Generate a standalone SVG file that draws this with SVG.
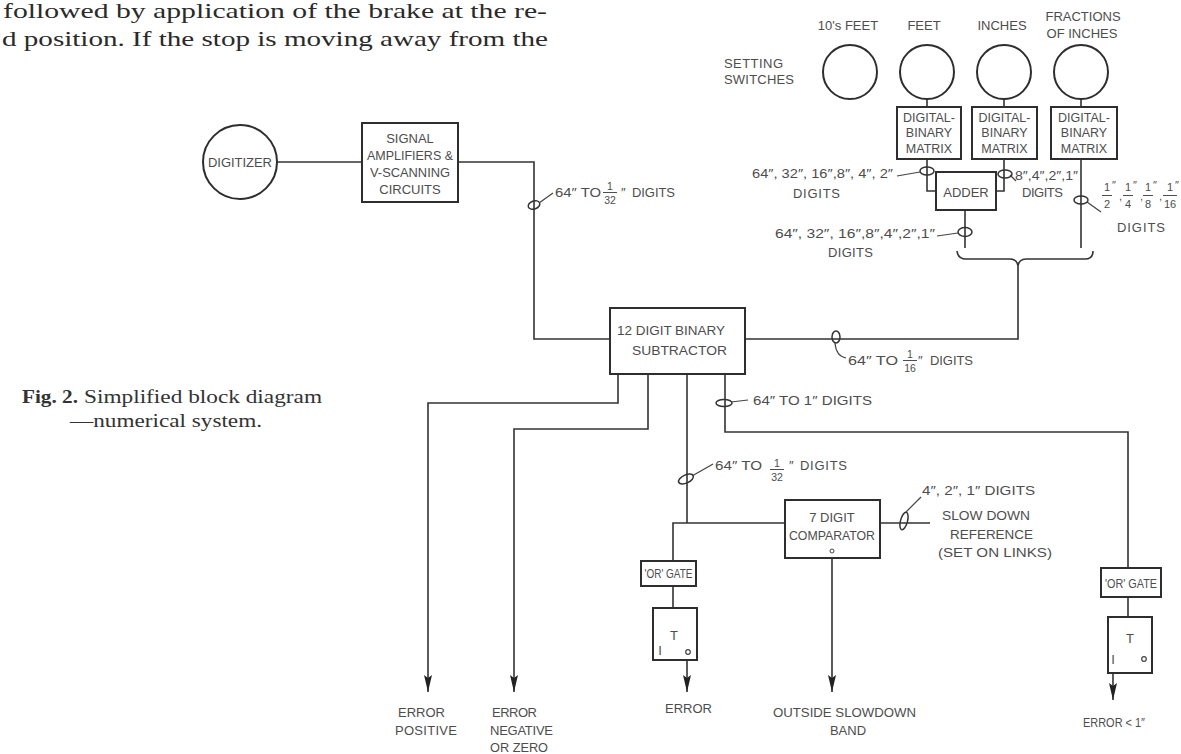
<svg xmlns="http://www.w3.org/2000/svg" width="1181" height="754" viewBox="0 0 1181 754">
<defs>
<style>
.body{font-family:"Liberation Serif","Times New Roman",serif;font-size:22px;fill:#2a2a2a}
.cap{font-family:"Liberation Serif","Times New Roman",serif;font-size:19px;fill:#333}
.l{font-family:"Liberation Sans",Arial,sans-serif;font-size:13px;fill:#4d4d4d}
.bx{font-size:12.5px}
.m{text-anchor:middle}
.e{text-anchor:end}
.f{font-family:"Liberation Sans",Arial,sans-serif;font-size:10.5px;fill:#4d4d4d;text-anchor:middle}
.fb{font-family:"Liberation Sans",Arial,sans-serif;font-size:11px;fill:#4d4d4d;text-anchor:middle}
.fi{font-family:"Liberation Sans",Arial,sans-serif;font-size:11px;fill:#4d4d4d}
.box{fill:#fff;stroke:#2e2e2e;stroke-width:2}
.w{fill:none;stroke:#333;stroke-width:1.6}
.tie{fill:none;stroke:#333;stroke-width:1.5}
.ld{fill:none;stroke:#444;stroke-width:1.2}
.bar{stroke:#4d4d4d;stroke-width:1}
.arr{marker-end:url(#ah)}
</style>
<marker id="ah" viewBox="0 -4 17 8" refX="17" refY="0" markerWidth="17" markerHeight="8" markerUnits="userSpaceOnUse" orient="auto"><path d="M0,-4 L17,0 L0,4 L3,0 z" fill="#222"/></marker>
</defs>
<rect width="1181" height="754" fill="#fff"/>

<g id="page-text">
<text class="body" x="3" y="18" textLength="544" lengthAdjust="spacingAndGlyphs">followed by application of the brake at the re-</text>
<text class="body" x="2" y="46" textLength="546" lengthAdjust="spacingAndGlyphs">d position. If the stop is moving away from the</text>
</g>

<g id="caption">
<text class="cap" x="22" y="403" font-weight="bold" textLength="56" lengthAdjust="spacingAndGlyphs">Fig. 2.</text>
<text class="cap" x="84" y="403" textLength="238" lengthAdjust="spacingAndGlyphs">Simplified block diagram</text>
<text class="cap" x="70" y="427" textLength="192" lengthAdjust="spacingAndGlyphs">—numerical system.</text>
</g>

<g id="connectors">
<path class="w" d="M277,162 H362"/>
<path class="w" d="M458,162 H534 V339 H610"/>
<path class="w" d="M927,99 V107 M1004,99 V107 M1081,99 V107"/>
<path class="w" d="M927,159 V191 H936"/>
<path class="w" d="M1004,159 V191 H996"/>
<path class="w" d="M1081,159 V248"/>
<path class="w" d="M965,210 V248"/>
<path class="w" d="M957,251 Q958,259 966,259 L1010,259 Q1017,259 1018,266 Q1019,259 1026,259 L1085,259 Q1093,259 1093,251"/>
<path class="w" d="M1018,266 V339 H745"/>
<path class="w arr" d="M618,374 V403 H428 V692"/>
<path class="w arr" d="M648,374 V429 H514 V692"/>
<path class="w" d="M687,374 V523"/>
<path class="w" d="M785,523 H673 V561"/>
<path class="w" d="M725,374 V432 H1128 V568"/>
<path class="w" d="M673,586 V608"/>
<path class="w arr" d="M687,660 V692"/>
<path class="w arr" d="M832,558 V692"/>
<path class="w" d="M880,523 H930"/>
<path class="w" d="M1128,597 V617"/>
<path class="w arr" d="M1113,673 V700"/>
<ellipse class="tie" cx="927" cy="171" rx="7" ry="4"/>
<path class="ld" d="M920,172 L897,176"/>
<ellipse class="tie" cx="1005" cy="174" rx="7" ry="4"/>
<path class="ld" d="M1010,175 L1016,181"/>
<ellipse class="tie" cx="1081" cy="200" rx="7" ry="4"/>
<path class="ld" d="M1087,202 L1101,212"/>
<ellipse class="tie" cx="965" cy="232" rx="7" ry="4.5"/>
<path class="ld" d="M958,233 L937,236"/>
<ellipse class="tie" cx="534" cy="205" rx="6" ry="4" transform="rotate(-20 534 205)"/>
<path class="ld" d="M539,203 L553,193"/>
<ellipse class="tie" cx="836" cy="337" rx="4" ry="6"/>
<path class="ld" d="M835,343 Q836,356 846,358"/>
<ellipse class="tie" cx="724" cy="403" rx="8" ry="3.5"/>
<path class="ld" d="M731,402 L748,400"/>
<ellipse class="tie" cx="686" cy="479" rx="8" ry="4" transform="rotate(-25 686 479)"/>
<path class="ld" d="M692,476 L713,464"/>
<ellipse class="tie" cx="904" cy="521" rx="3.5" ry="9" transform="rotate(15 904 521)"/>
<path class="ld" d="M906,512 L921,497"/>
</g>

<g id="connector-labels">
<text class="l" x="752" y="178" textLength="141" lengthAdjust="spacingAndGlyphs">64″, 32″, 16″,8″, 4″, 2″</text>
<text class="l" x="793" y="198" textLength="47">DIGITS</text>
<text class="l" x="1015" y="180" textLength="63" lengthAdjust="spacingAndGlyphs">8″,4″,2″,1″</text>
<text class="l" x="1022" y="197" textLength="41">DIGITS</text>
<g id="frac-digits">
<text class="fb" x="1107" y="191">1</text><text class="fi" x="1112" y="189">″</text><line class="bar" x1="1102" y1="195.5" x2="1112" y2="195.5"/><text class="fb" x="1107" y="208">2</text>
<text class="fi" x="1119" y="200">,</text>
<text class="fb" x="1128" y="191">1</text><text class="fi" x="1133" y="189">″</text><line class="bar" x1="1123" y1="195.5" x2="1133" y2="195.5"/><text class="fb" x="1128" y="208">4</text>
<text class="fi" x="1140" y="200">,</text>
<text class="fb" x="1148" y="191">1</text><text class="fi" x="1153" y="189">″</text><line class="bar" x1="1143" y1="195.5" x2="1153" y2="195.5"/><text class="fb" x="1148" y="208">8</text>
<text class="fi" x="1159" y="200">,</text>
<text class="fb" x="1170" y="191">1</text><text class="fi" x="1175" y="189">″</text><line class="bar" x1="1163" y1="195.5" x2="1177" y2="195.5"/><text class="fb" x="1170" y="208">16</text>
</g>
<text class="l" x="1117" y="232" textLength="48">DIGITS</text>
<text class="l" x="775" y="238" textLength="160" lengthAdjust="spacingAndGlyphs">64″, 32″, 16″,8″,4″,2″,1″</text>
<text class="l" x="828" y="257" textLength="45">DIGITS</text>

<text class="l" x="555" y="197" textLength="46" lengthAdjust="spacingAndGlyphs">64″ TO</text>
<text class="f" x="610" y="190">1</text><line class="bar" x1="603" y1="192.5" x2="617" y2="192.5"/><text class="f" x="610" y="204">32</text>
<text class="l" x="621" y="197">″</text>
<text class="l" x="632" y="197" textLength="43">DIGITS</text>

<text class="l" x="848" y="365" textLength="50" lengthAdjust="spacingAndGlyphs">64″ TO</text>
<text class="f" x="910" y="358">1</text><line class="bar" x1="903" y1="360.5" x2="917" y2="360.5"/><text class="f" x="910" y="372">16</text>
<text class="l" x="918" y="365">″</text>
<text class="l" x="930" y="365" textLength="43">DIGITS</text>

<text class="l" x="753" y="405" textLength="119" lengthAdjust="spacingAndGlyphs">64″ TO 1″ DIGITS</text>

<text class="l" x="715" y="470" textLength="47" lengthAdjust="spacingAndGlyphs">64″ TO</text>
<text class="f" x="777" y="467">1</text><line class="bar" x1="770" y1="469.5" x2="784" y2="469.5"/><text class="f" x="777" y="481">32</text>
<text class="l" x="789" y="470">″</text>
<text class="l" x="800" y="470" textLength="47">DIGITS</text>

<text class="l" x="922" y="495" textLength="113" lengthAdjust="spacingAndGlyphs">4″, 2″, 1″ DIGITS</text>
<text class="l" x="942" y="520" textLength="88" lengthAdjust="spacingAndGlyphs">SLOW DOWN</text>
<text class="l" x="950" y="539" textLength="83" lengthAdjust="spacingAndGlyphs">REFERENCE</text>
<text class="l" x="938" y="557" textLength="114" lengthAdjust="spacingAndGlyphs">(SET ON LINKS)</text>
</g>

<g id="setting-switches-label">
<text class="l" x="724" y="68" textLength="59">SETTING</text>
<text class="l" x="724" y="84" textLength="70">SWITCHES</text>
</g>
<g id="switch-10s-feet"><circle class="box" cx="850" cy="72" r="27"/><text class="l m" x="848" y="30">10's FEET</text></g>
<g id="switch-feet"><circle class="box" cx="927" cy="72" r="27"/><text class="l m" x="924" y="30">FEET</text></g>
<g id="switch-inches"><circle class="box" cx="1004" cy="72" r="27"/><text class="l m" x="1002" y="30">INCHES</text></g>
<g id="switch-fractions"><circle class="box" cx="1081" cy="72" r="27"/><text class="l m" x="1083" y="21">FRACTIONS</text><text class="l m" x="1082" y="38">OF INCHES</text></g>

<g id="matrix-feet"><rect class="box" x="897" y="107" width="64" height="52"/><text class="l bx m" x="929" y="122">DIGITAL-</text><text class="l bx m" x="929" y="137">BINARY</text><text class="l bx m" x="929" y="153">MATRIX</text></g>
<g id="matrix-inches"><rect class="box" x="972" y="107" width="65" height="52"/><text class="l bx m" x="1004.5" y="122">DIGITAL-</text><text class="l bx m" x="1004.5" y="137">BINARY</text><text class="l bx m" x="1004.5" y="153">MATRIX</text></g>
<g id="matrix-fractions"><rect class="box" x="1051" y="107" width="66" height="52"/><text class="l bx m" x="1084" y="122">DIGITAL-</text><text class="l bx m" x="1084" y="137">BINARY</text><text class="l bx m" x="1084" y="153">MATRIX</text></g>
<g id="adder"><rect class="box" x="936" y="172" width="60" height="38"/><text class="l m" x="966" y="197">ADDER</text></g>

<g id="digitizer"><circle class="box" cx="240" cy="162" r="37"/><text class="l m" x="240" y="167" textLength="64">DIGITIZER</text></g>
<g id="signal-amplifiers"><rect class="box" x="362" y="123" width="96" height="79"/>
<text class="l m" x="410" y="143">SIGNAL</text>
<text class="l m" x="410" y="160" textLength="86" lengthAdjust="spacingAndGlyphs">AMPLIFIERS &amp;</text>
<text class="l m" x="410" y="177" textLength="80" lengthAdjust="spacingAndGlyphs">V-SCANNING</text>
<text class="l m" x="410" y="194">CIRCUITS</text></g>

<g id="subtractor"><rect class="box" x="610" y="308" width="135" height="66"/>
<text class="l" x="617" y="335" textLength="108" lengthAdjust="spacingAndGlyphs">12 DIGIT BINARY</text>
<text class="l" x="632" y="355" textLength="95" lengthAdjust="spacingAndGlyphs">SUBTRACTOR</text></g>

<g id="comparator"><rect class="box" x="785" y="500" width="95" height="58"/>
<text class="l m" x="832" y="522">7 DIGIT</text>
<text class="l m" x="832" y="540" textLength="86" lengthAdjust="spacingAndGlyphs">COMPARATOR</text>
<circle cx="832" cy="551" r="2" fill="none" stroke="#444" stroke-width="1"/></g>

<g id="or-gate-left"><rect class="box" x="641" y="561" width="55" height="25"/><text class="l m" x="668.5" y="578" font-size="12" textLength="48" lengthAdjust="spacingAndGlyphs">'OR' GATE</text></g>
<g id="trigger-left"><rect class="box" x="653" y="608" width="44" height="52"/><text class="l m" x="674" y="640">T</text><text class="l m" x="660" y="655" font-size="8">I</text><circle cx="688" cy="652" r="2.3" fill="none" stroke="#444" stroke-width="1.2"/></g>

<g id="or-gate-right"><rect class="box" x="1101" y="568" width="60" height="29"/><text class="l m" x="1131" y="588" font-size="12" textLength="52" lengthAdjust="spacingAndGlyphs">'OR' GATE</text></g>
<g id="trigger-right"><rect class="box" x="1108" y="617" width="44" height="56"/><text class="l m" x="1130" y="643">T</text><text class="l m" x="1113" y="664" font-size="8">I</text><circle cx="1144" cy="659" r="2.3" fill="none" stroke="#444" stroke-width="1.2"/></g>

<g id="out-error-positive"><text class="l" x="398" y="717" textLength="47">ERROR</text><text class="l" x="395" y="735" textLength="62">POSITIVE</text></g>
<g id="out-error-negative"><text class="l" x="492" y="717" textLength="45">ERROR</text><text class="l" x="490" y="735" textLength="63">NEGATIVE</text><text class="l" x="490" y="752" textLength="58" lengthAdjust="spacingAndGlyphs">OR ZERO</text></g>
<g id="out-error"><text class="l" x="665" y="713" textLength="47">ERROR</text></g>
<g id="out-slowdown"><text class="l" x="773" y="717" textLength="143" lengthAdjust="spacingAndGlyphs">OUTSIDE SLOWDOWN</text><text class="l m" x="848" y="735">BAND</text></g>
<g id="out-error-1in"><text class="l" x="1083" y="727" textLength="62" lengthAdjust="spacingAndGlyphs">ERROR &lt; 1″</text></g>
</svg>
